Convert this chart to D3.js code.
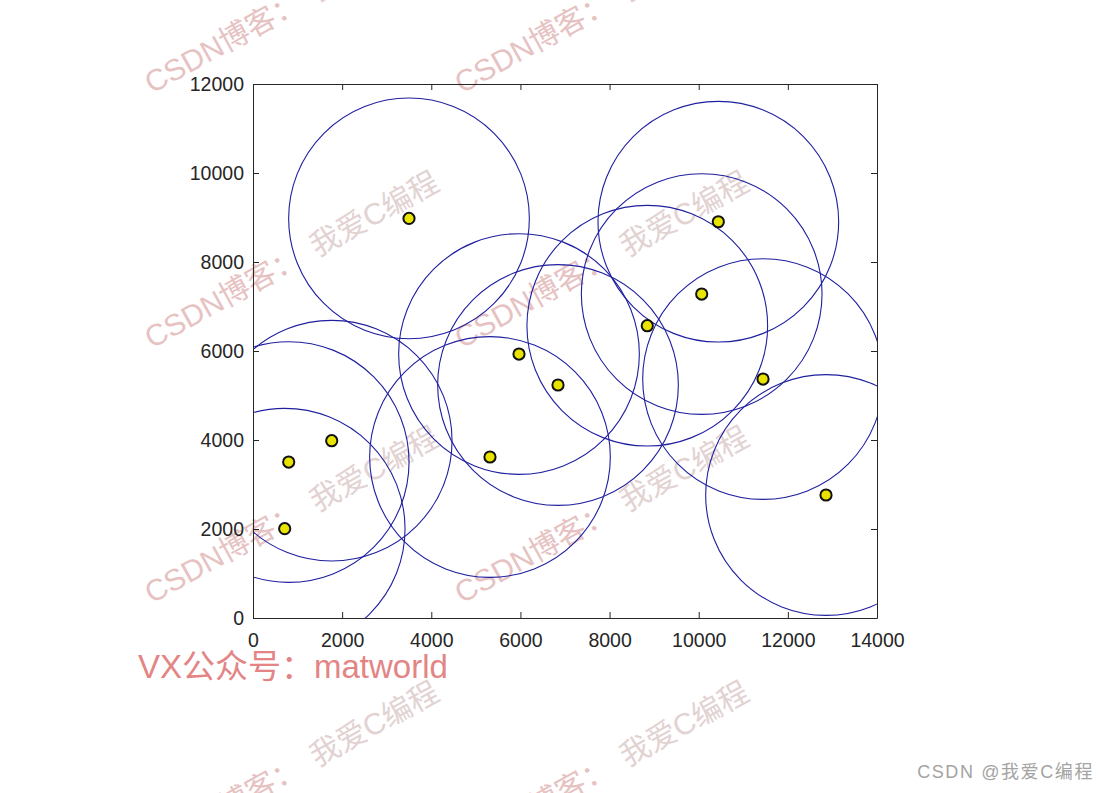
<!DOCTYPE html>
<html>
<head>
<meta charset="utf-8">
<script src="https://cdn.jsdelivr.net/npm/d3@7"></script>
<style>
  body { margin: 0; background: #fff; }
  svg { display: block; }
</style>
</head>
<body>
<div id="chart"></div>
<script>
        // point positions (x, y) and the common coverage radius
        var pointX = [3500, 10440, 10067, 8846, 5968, 6843, 11443, 1766, 5317, 801, 711, 12856];
        var pointY = [8980, 8905, 7280, 6568, 5932, 5236, 5370, 3984, 3618, 3505, 2007, 2764];
        var radius = 2700;

        var xTicks = [0, 2000, 4000, 6000, 8000, 10000, 12000, 14000];
        var yTicks = [0, 2000, 4000, 6000, 8000, 10000, 12000];

        var markText = "CSDN博客：";
        var markText2 = "我爱C编程";
        var footText = "VX公众号：matworld";
        var creditText = "CSDN @我爱C编程";

        var fullwidth = 1102;
        var fullheight = 793;
        var margin = {top: 84, right: 225, bottom: 175, left: 253};

        var width = fullwidth - margin.left - margin.right;
        var height = fullheight - margin.top - margin.bottom;

        var root = d3.select("#chart")
                    .append("svg")
                    .attr("width", fullwidth)
                    .attr("height", fullheight);

        // watermarks sit under the chart
        var marks = root.append("g").attr("pointer-events", "none");

        var svg = root.append("g")
                    .attr("transform", "translate(" + margin.left + "," + margin.top + ")");

        var xScale = d3.scaleLinear()
                        .domain([0, 14000])
                        .range([0, width]);

        var yScale = d3.scaleLinear()
                        .domain([0, 12000])
                        .range([height, 0]);

        var font = "'Liberation Sans', Arial, Helvetica, sans-serif";

        svg.append("clipPath")
            .attr("id", "plotclip")
            .append("rect")
            .attr("width", width)
            .attr("height", height);

        var data = pointX.map(function(d, i) {
            return {x: d, y: pointY[i]};
        });

        // coverage circles
        svg.append("g")
            .attr("clip-path", "url(#plotclip)")
            .selectAll("circle")
            .data(data)
            .enter()
            .append("circle")
            .attr("cx", function(d) { return xScale(d.x); })
            .attr("cy", function(d) { return yScale(d.y); })
            .attr("r", xScale(radius) - xScale(0))
            .attr("fill", "none")
            .attr("stroke", "#1f1fa0")
            .attr("stroke-width", 1.1);

        // axes (ticks inside, box all round)
        function styleAxis(g) {
            g.selectAll("path").attr("stroke", "#262626").attr("stroke-width", 1);
            g.selectAll("line").attr("stroke", "#262626").attr("stroke-width", 1);
            g.selectAll("text").attr("fill", "#262626")
                .style("font-family", font).style("font-size", "19.5px");
        }

        svg.append("g")
            .attr("transform", "translate(0," + height + ")")
            .call(d3.axisBottom(xScale).tickValues(xTicks).tickSizeInner(-6).tickSizeOuter(0).tickPadding(15)
                .tickFormat(function(d) { return d; }))
            .call(styleAxis);

        svg.append("g")
            .call(d3.axisLeft(yScale).tickValues(yTicks).tickSizeInner(-6).tickSizeOuter(0).tickPadding(9)
                .tickFormat(function(d) { return d; }))
            .call(styleAxis);

        svg.append("g")
            .call(d3.axisTop(xScale).tickValues(xTicks).tickSizeInner(-6).tickSizeOuter(0).tickFormat(""))
            .call(styleAxis);

        svg.append("g")
            .attr("transform", "translate(" + width + ",0)")
            .call(d3.axisRight(yScale).tickValues(yTicks).tickSizeInner(-6).tickSizeOuter(0).tickFormat(""))
            .call(styleAxis);

        // points
        svg.append("g")
            .selectAll("circle")
            .data(data)
            .enter()
            .append("circle")
            .attr("cx", function(d) { return xScale(d.x); })
            .attr("cy", function(d) { return yScale(d.y); })
            .attr("r", 5.6)
            .attr("fill", "#e8e400")
            .attr("stroke", "#111")
            .attr("stroke-width", 2);

        [152, 462].forEach(function(mx) {
            [94, 349, 604, 859].forEach(function(my) {
                var t = marks.append("text")
                    .attr("transform", "translate(" + mx + "," + my + ") rotate(-29)")
                    .style("font-family", "'Liberation Sans', 'Noto Sans CJK SC', sans-serif")
                    .style("font-size", "30px");
                t.append("tspan")
                    .attr("fill", "#e6c2c2")
                    .text(markText);
                t.append("tspan")
                    .attr("dx", 14)
                    .attr("fill", "#e2d2d2")
                    .text(markText2);
            });
        });

        root.append("text")
            .attr("x", 138)
            .attr("y", 678)
            .attr("fill", "#e38585")
            .style("font-family", "'Liberation Sans', 'Noto Sans CJK SC', sans-serif")
            .style("font-size", "33px")
            .text(footText);

        root.append("text")
            .attr("x", 1094)
            .attr("y", 778)
            .attr("text-anchor", "end")
            .attr("fill", "#a3a3a3")
            .attr("letter-spacing", 1.6)
            .style("font-family", "'Liberation Sans', 'Noto Sans CJK SC', sans-serif")
            .style("font-size", "18px")
            .text(creditText);
</script>
</body>
</html>
